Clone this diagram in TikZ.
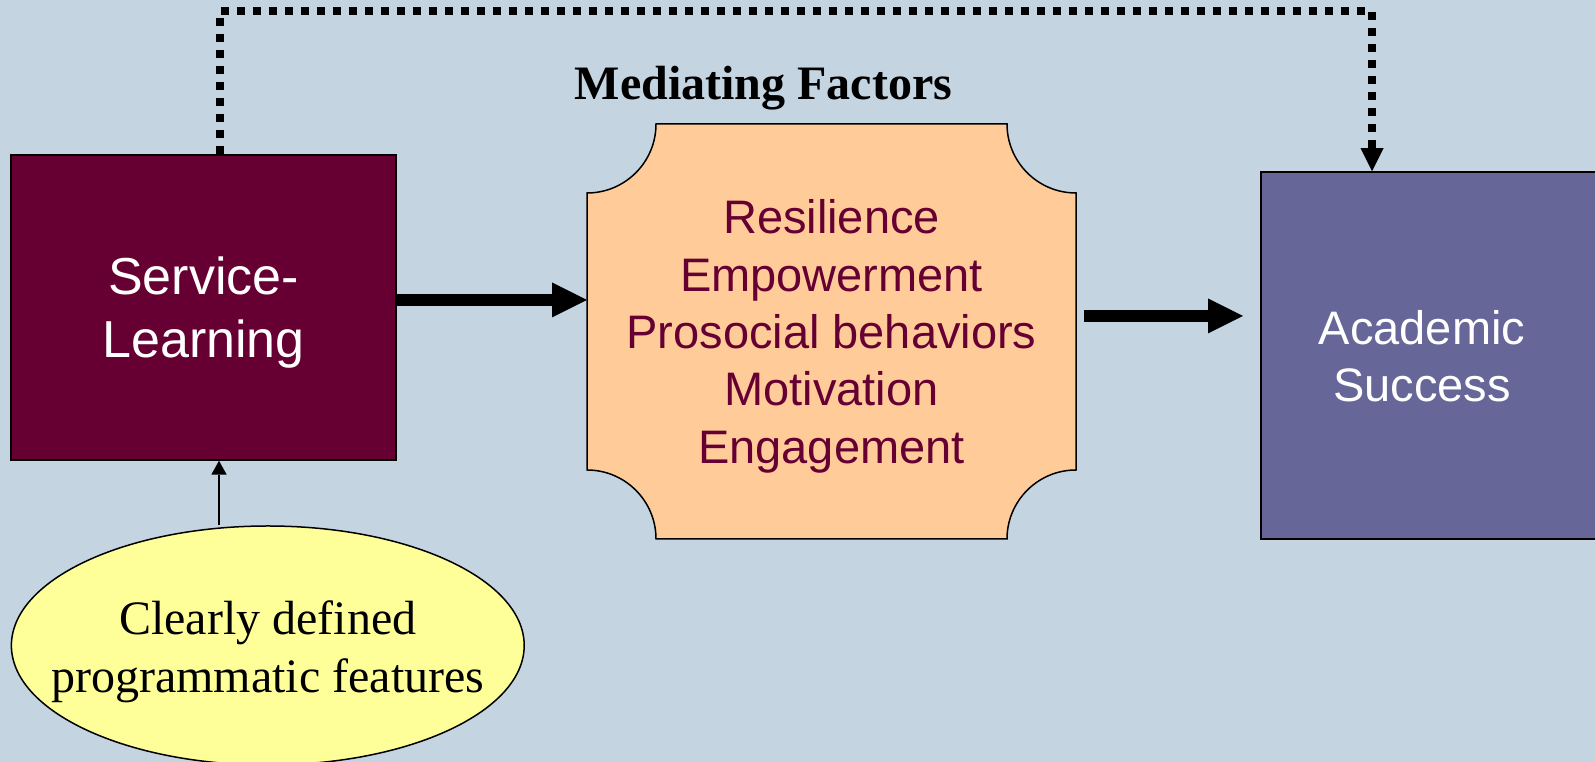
\documentclass[tikz,border=0pt]{standalone}
\usepackage{fontspec}
\setmainfont{Liberation Serif}
\newfontfamily\arialfont{Liberation Sans}
\usetikzlibrary{arrows.meta,shapes.geometric}

\definecolor{bgblue}{RGB}{196,212,225}
\definecolor{servicered}{RGB}{102,0,51}
\definecolor{mediatorfill}{RGB}{255,204,153}
\definecolor{successblue}{RGB}{102,102,153}
\definecolor{featureyellow}{RGB}{255,255,153}

\tikzset{
    box/.style={draw, line width=1.5pt, inner sep=0pt, text depth=0pt},
    sanslabel/.style={font=\arialfont\fontsize{52}{63}\selectfont, align=center, text depth=0pt},
    bigarrow/.style={line width=12pt, -{Triangle[length=35pt,width=35pt,line width=0pt]}},
    dotarrow/.style={line width=8pt, dash pattern=on 8pt off 8pt, -{Triangle[length=23pt,width=23pt,line width=0pt]}},
    thinarrow/.style={line width=2pt, -{Triangle[length=14pt,width=15.5pt,line width=0pt]}},
}

\begin{document}
\begin{tikzpicture}[x=1pt, y=1pt]

    \def\cornerrad{69}

    \fill[bgblue] (0,0) rectangle (1595,762);
    \useasboundingbox (0,0) rectangle (1595,762);

    \node[font=\bfseries\fontsize{48}{58}\selectfont, anchor=base] (title) at (763.5,662) {Mediating Factors};

    \node[box, fill=servicered, minimum width=385pt, minimum height=305pt, text=white, sanslabel] (svc) at (203.5,454.5) {Service-\\Learning};

    % plaque with cut-in corners
    \node[minimum width=489pt, minimum height=415pt, inner sep=0pt, outer sep=0pt] (plaque) at (831.5,430.5) {};
    \filldraw[fill=mediatorfill, line width=1.5pt]
        ([yshift=-\cornerrad pt]plaque.north west) arc[start angle=270, end angle=360, radius=\cornerrad pt]
        -- ([xshift=-\cornerrad pt]plaque.north east) arc[start angle=180, end angle=270, radius=\cornerrad pt]
        -- ([yshift=\cornerrad pt]plaque.south east) arc[start angle=90, end angle=180, radius=\cornerrad pt]
        -- ([xshift=\cornerrad pt]plaque.south west) arc[start angle=0, end angle=90, radius=\cornerrad pt]
        -- cycle;
    \node[sanslabel, font=\arialfont\fontsize{47}{57.3}\selectfont, text=servicered] (factors) at (plaque.center)
        {Resilience\\Empowerment\\Prosocial behaviors\\Motivation\\Engagement};

    \node[box, fill=successblue, minimum width=400pt, minimum height=367pt, anchor=west] (acad) at (1260,406.5) {};
    \node[sanslabel, font=\arialfont\fontsize{47}{57}\selectfont, text=white] (acadtext) at (1422,406.5) {Academic\\Success};

    \node[ellipse, draw, line width=1.5pt, fill=featureyellow, minimum width=512.8pt, minimum height=239pt, inner sep=0pt] (feat) at (267.8,116.5) {};
    \node[font=\fontsize{48}{58.5}\selectfont, align=center, text depth=0pt] (feattext) at (267.8,115.5) {Clearly defined\\programmatic features};

    \draw[bigarrow] ([yshift=7.5pt]svc.east) -- ([yshift=31.5pt]plaque.west);
    \draw[bigarrow] ([xshift=8pt,yshift=15.5pt]plaque.east) -- ([xshift=-17pt,yshift=39.5pt]acad.west);
    \draw[thinarrow] ([xshift=-48.8pt]feat.north) -- ([xshift=15.5pt]svc.south);
    \draw[dotarrow] ([xshift=16.5pt]svc.north) -- ++(0,143) -| ([xshift=112pt]acad.north west);
\end{tikzpicture}
\end{document}
